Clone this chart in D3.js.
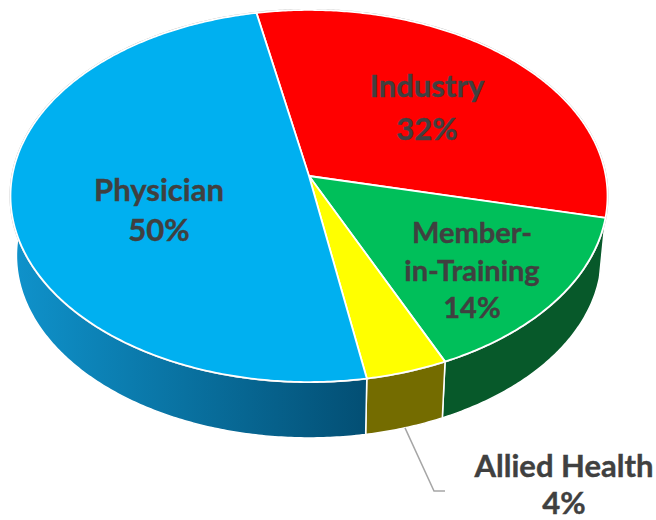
<!DOCTYPE html>
<html>
<head>
<meta charset="utf-8">
<script src="https://cdnjs.cloudflare.com/ajax/libs/d3/7.8.5/d3.min.js"></script>
<style>
html, body { margin: 0; padding: 0; background: #fff; }
text { font-family: Lato, sans-serif; font-weight: 700; fill: #404040; stroke: #404040; stroke-width: 0.4; }
</style>
</head>
<body>
<svg id="chart"></svg>
<script>
const categories = ["Industry", "Member-in-Training", "Allied Health", "Physician"];
const shares = [31.7, 14.65, 4.0, 49.65];

const WIDTH = 656;
const HEIGHT = 520;

// pie apex and projection of the tilted disc
const APEX_X = 309;
const APEX_Y = 176;
const RADIUS_X = 296.8;
const RADIUS_Y = 183.9;
const PERSPECTIVE = 0.1075;
const DEPTH = 60;
const BOTTOM_SCALE = 0.98;
const START_ANGLE = -0.197;

const topColors = ["#ff0000", "#00bf5a", "#ffff00", "#00b0f0"];
const wallColors = [
    ["#8c0000", "#8c0000"],
    ["#07592a", "#07592a"],
    ["#746c00", "#746c00"],
    ["#0f93cc", "#034f74"]
];

const labelLines = [["Industry", "32%"], ["Member-", "in-Training", "14%"], ["Allied Health", "4%"], ["Physician", "50%"]];
const labelX = [427, 472, 564, 159];
const labelY = [[97, 140], [243, 281, 318], [477, 514], [201, 241]];
const labelSize = [31, 29, 31, 31];

const svg = d3.select("#chart").attr("width", WIDTH).attr("height", HEIGHT).style("display", "block");

const slices = d3.pie().sort(null).startAngle(START_ANGLE).endAngle(START_ANGLE + 2 * Math.PI)(shares);

function rimPoint(angle, bottom) {
    const x = Math.sin(angle);
    const z = -Math.cos(angle);
    const w = 1 - PERSPECTIVE * z;
    const s = bottom ? BOTTOM_SCALE : 1;
    return [
        APEX_X + s * RADIUS_X * x / w,
        APEX_Y + (bottom ? DEPTH : 0) + s * RADIUS_Y * z / w
    ];
}

function rimPoints(a0, a1, bottom) {
    const n = Math.ceil((a1 - a0) / 0.01);
    return d3.range(n + 1).map(i => rimPoint(a0 + (a1 - a0) * i / n, bottom));
}

const line = d3.line();

// wall gradients, dark toward the front right
const defs = svg.append("defs");
wallColors.forEach((c, i) => {
    const grad = defs.append("linearGradient")
        .attr("id", "wall" + i)
        .attr("gradientUnits", "userSpaceOnUse")
        .attr("x1", i === 3 ? 10 : 365).attr("x2", i === 3 ? 365 : 607)
        .attr("y1", 0).attr("y2", 0);
    grad.append("stop").attr("offset", 0).attr("stop-color", c[0]);
    grad.append("stop").attr("offset", 1).attr("stop-color", c[1]);
});

// walls first, the top face is painted over them
svg.append("g").selectAll("path")
    .data(slices)
    .join("path")
    .attr("d", d => line(rimPoints(d.startAngle, d.endAngle, false)
        .concat(rimPoints(d.startAngle, d.endAngle, true).reverse())) + "Z")
    .attr("fill", (d, i) => `url(#wall${i})`)
    .attr("stroke", "#ffffff")
    .attr("stroke-width", 1.5)
    .attr("stroke-linejoin", "round");

svg.append("path")
    .attr("d", line(rimPoints(0, 2 * Math.PI, false)) + "Z")
    .attr("fill", "none")
    .attr("stroke", "#b5b5b5")
    .attr("stroke-width", 2);

svg.append("g").selectAll("path")
    .data(slices)
    .join("path")
    .attr("d", d => line([[APEX_X, APEX_Y]].concat(rimPoints(d.startAngle, d.endAngle, false))) + "Z")
    .attr("fill", (d, i) => topColors[i])
    .attr("stroke", "#ffffff")
    .attr("stroke-width", 1.8)
    .attr("stroke-linejoin", "round");

// leader for the small slice
const allied = slices[categories.indexOf("Allied Health")];
const leaderStart = rimPoint((allied.startAngle + allied.endAngle) / 2, true);
svg.append("path")
    .attr("d", line([leaderStart, [434, 491], [445, 491]]))
    .attr("fill", "none")
    .attr("stroke", "#a6a6a6")
    .attr("stroke-width", 1.5);

const labels = svg.append("g").selectAll("text")
    .data(categories)
    .join("text")
    .attr("text-anchor", "middle")
    .attr("font-size", (d, i) => labelSize[i]);

labels.selectAll("tspan")
    .data((d, i) => labelLines[i].map((t, j) => ({ t, x: labelX[i], y: labelY[i][j] })))
    .join("tspan")
    .attr("x", d => d.x)
    .attr("y", d => d.y)
    .text(d => d.t);
</script>
</body>
</html>
